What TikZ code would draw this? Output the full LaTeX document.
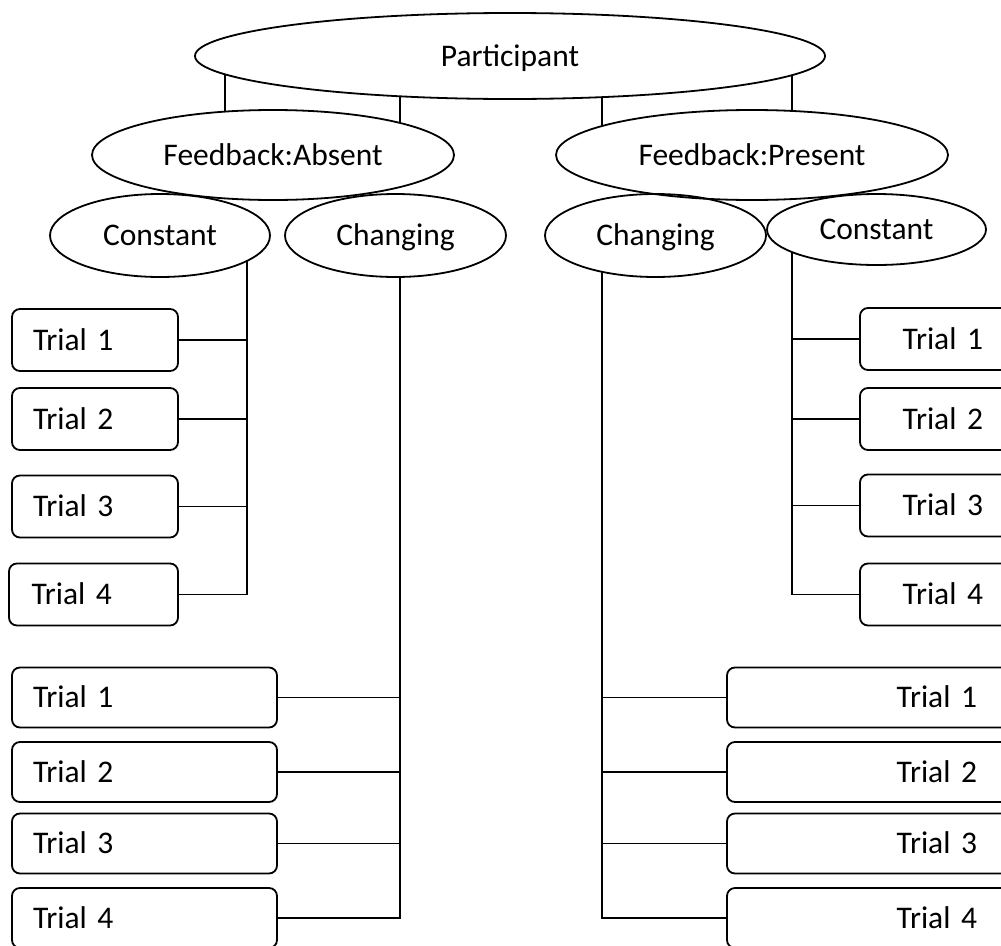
\documentclass[tikz,border=0pt]{standalone}
\usepackage{fontspec}
\setmainfont{Carlito}
\usetikzlibrary{
    positioning,
    shapes.geometric
}

\begin{document}
\begin{tikzpicture}[
    x=1pt, y=-1pt,
    font=\fontsize{31.5}{36}\selectfont,
    line width=1.8pt,
    every node/.style={
        text height=20.3pt,
        text depth=0pt
    },
    oval/.style={
        draw,
        ellipse,
        inner sep=0pt,
        outer sep=0pt
    },
    trial/.style={
        draw,
        rounded corners=8pt,
        inner ysep=0pt,
        outer sep=0pt
    },
    constbox/.style={
        trial,
        anchor=west,
        minimum height=62pt,
        inner xsep=21pt,
        text width=124pt,
        align=left
    },
    chgbox/.style={
        trial,
        anchor=west,
        minimum height=60pt,
        inner xsep=21pt,
        text width=223pt,
        align=left
    },
    constboxr/.style={
        trial,
        anchor=west,
        minimum height=62pt,
        inner xsep=33pt,
        text width=90pt,
        align=right
    },
    chgboxr/.style={
        trial,
        anchor=west,
        minimum height=60pt,
        inner xsep=50pt,
        text width=200pt,
        align=right
    }
]

\useasboundingbox (0,0) rectangle (1001,945);
\clip (0,0) rectangle (1001,945);

\node[oval, minimum width=630pt, minimum height=86pt] (part) at (510,56)
{Participant};

\node[oval, minimum width=362pt, minimum height=90pt] (fbabs) at (273,155)
{Feedback:Absent};

\node[oval, minimum width=392pt, minimum height=90pt] (fbpres) at (752,155)
{Feedback:Present};

\node[oval, minimum width=220pt, minimum height=83pt] (absconst) at (160,235.5)
{Constant};

\node[oval, minimum width=221pt, minimum height=83pt] (abschg) at (395.5,235.5)
{Changing};

\node[oval, minimum width=221pt, minimum height=83pt] (preschg) at (655.5,235.5)
{Changing};

\node[oval, minimum width=219pt, minimum height=71pt] (presconst) at (876.5,229.5)
{Constant};

\node[constbox] (ac1) at (12,340) {Trial 1};
\node[constbox] (ac2) at (12,419) {Trial 2};
\node[constbox] (ac3) at (12,506.5) {Trial 3};
\node[constbox, minimum width=169pt] (ac4) at (9,594.5) {Trial 4};

\node[chgbox] (ag1) at (12,697.5) {Trial 1};
\node[chgbox] (ag2) at (12,772) {Trial 2};
\node[chgbox] (ag3) at (12,843.5) {Trial 3};
\node[chgbox] (ag4) at (12,918) {Trial 4};

\node[chgboxr] (pg1) at (727,697.5) {Trial 1};
\node[chgboxr] (pg2) at (727,772) {Trial 2};
\node[chgboxr] (pg3) at (727,843.5) {Trial 3};
\node[chgboxr] (pg4) at (727,918) {Trial 4};

\node[constboxr] (pc1) at (860,339) {Trial 1};
\node[constboxr] (pc2) at (860,419) {Trial 2};
\node[constboxr] (pc3) at (860,505.5) {Trial 3};
\node[constboxr] (pc4) at (860,594.5) {Trial 4};

\draw ([shift={(-285,18.3)}]part.center) -- ([shift={(-48,-43.4)}]fbabs.center);
\draw ([shift={(-110,40.3)}]part.center) -- ([shift={(127,-32.1)}]fbabs.center);
\draw ([shift={(92,41.1)}]part.center) -- ([shift={(-150,-29)}]fbpres.center);
\draw ([shift={(282,19.2)}]part.center) -- ([shift={(40,-44.1)}]fbpres.center);

\coordinate (acbus) at ([shift={(87,25.4)}]absconst.center);
\coordinate (agbus) at ([shift={(4.5,41.5)}]abschg.center);
\coordinate (pgbus) at ([shift={(-53.5,36.3)}]preschg.center);
\coordinate (pcbus) at ([shift={(-84.5,22.6)}]presconst.center);

\draw (acbus) |- (ac4.east);
\draw (ac1.east) -- (ac1.east -| acbus);
\draw (ac2.east) -- (ac2.east -| acbus);
\draw (ac3.east) -- (ac3.east -| acbus);

\draw (agbus) |- (ag4.east);
\draw (ag1.east) -- (ag1.east -| agbus);
\draw (ag2.east) -- (ag2.east -| agbus);
\draw (ag3.east) -- (ag3.east -| agbus);

\draw (pgbus) |- (pg4.west);
\draw (pg1.west) -- (pg1.west -| pgbus);
\draw (pg2.west) -- (pg2.west -| pgbus);
\draw (pg3.west) -- (pg3.west -| pgbus);

\draw (pcbus) |- (pc4.west);
\draw (pc1.west) -- (pc1.west -| pcbus);
\draw (pc2.west) -- (pc2.west -| pcbus);
\draw (pc3.west) -- (pc3.west -| pcbus);

\end{tikzpicture}
\end{document}
